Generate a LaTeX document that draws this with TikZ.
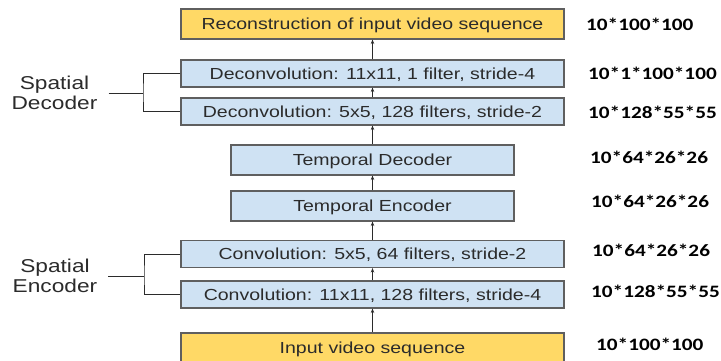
\documentclass[tikz,border=0pt]{standalone}
\usepackage{fontspec}
\usetikzlibrary{arrows.meta}
\setmainfont{Liberation Sans}[FakeStretch=1.22]
\newfontfamily\numfont{Carlito}[FakeStretch=1.22]
\definecolor{bluefill}{HTML}{CFE2F3}
\definecolor{yellowfill}{HTML}{FFD966}
\definecolor{edge}{HTML}{5F5F5F}
\definecolor{ink}{HTML}{2B2B2B}
\tikzset{
  layer/.style={draw=edge, line width=1.1pt, fill=bluefill, minimum height=27pt, inner sep=0pt,
     font=\fontsize{16}{18}\selectfont, text=ink, text depth=0pt, text height=11.5pt},
  wide/.style={layer, minimum width=383pt},
  narrow/.style={layer, minimum width=283pt, minimum height=30pt},
  io/.style={layer, fill=yellowfill, minimum width=383pt, minimum height=30pt},
  dim/.style={anchor=west, inner sep=0pt, font=\numfont\bfseries\fontsize{17.4}{20}\selectfont, text=black},
  side/.style={align=center, inner ysep=0pt, inner xsep=11pt, font=\fontsize{18.6}{20.5}\selectfont, text=ink},
  flow/.style={draw=ink, line width=0.9pt, -{Stealth[length=4.5pt,width=3.5pt]}},
  brace/.style={draw=ink, line width=0.9pt}
}
\begin{document}
\begin{tikzpicture}[x=1pt,y=-1pt]
\clip (0,0) rectangle (721,360);
\fill[white] (0,0) rectangle (721,360);
\node[io] (rec) at (372.5,24) {Reconstruction of input video sequence};
\node[wide] (d11) at (372.5,73.5) {Deconvolution: 11x11, 1 filter, stride-4};
\node[wide] (d5) at (372.5,111.5) {Deconvolution: 5x5, 128 filters, stride-2};
\node[narrow] (td) at (372.5,160) {Temporal Decoder};
\node[narrow] (te) at (372.5,206) {Temporal Encoder};
\node[wide] (c5) at (372.5,254) {Convolution: 5x5, 64 filters, stride-2};
\node[wide] (c11) at (372.5,294.5) {Convolution: 11x11, 128 filters, stride-4};
\node[io] (inp) at (372.5,348) {Input video sequence};

\draw[flow] (inp.north) -- (c11.south);
\draw[flow] (c11.north) -- (c5.south);
\draw[flow] (c5.north) -- (te.south);
\draw[flow] (te.north) -- (td.south);
\draw[flow] (td.north) -- (d5.south);
\draw[flow] (d5.north) -- (d11.south);
\draw[flow] (d11.north) -- (rec.south);

\node[side] (sdl) at (54.5,93) {Spatial\\Decoder};
\node[side] (sel) at (55,276) {Spatial\\Encoder};
\coordinate (sdj) at (143,93);
\coordinate (sej) at (144,276);
\draw[brace] (sdl.east) -- (sdj);
\draw[brace] (d11.west) -| (sdj) |- (d5.west);
\draw[brace] (sel.east) -- (sej);
\draw[brace] (c5.west) -| (sej) |- (c11.west);

\node[dim] (n1) at (586,24) {10*100*100};
\node[dim] (n2) at (588,73) {10*1*100*100};
\node[dim] (n3) at (588,112) {10*128*55*55};
\node[dim] (n4) at (590,157) {10*64*26*26};
\node[dim] (n5) at (591,201) {10*64*26*26};
\node[dim] (n6) at (592,250) {10*64*26*26};
\node[dim] (n7) at (591,291) {10*128*55*55};
\node[dim] (n8) at (596,344) {10*100*100};
\end{tikzpicture}
\end{document}
